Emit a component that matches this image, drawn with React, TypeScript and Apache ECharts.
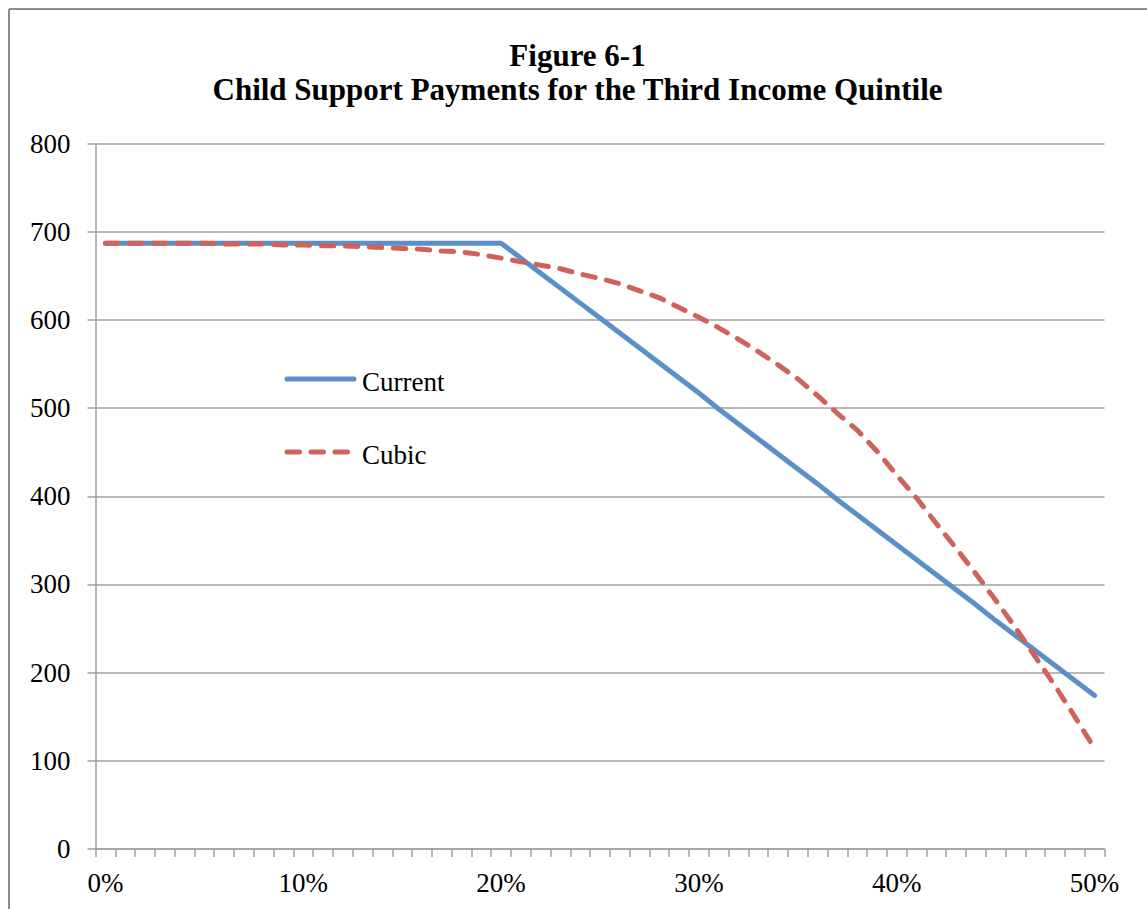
import React, { useEffect, useRef } from "react";
import * as echarts from "echarts";

// Income share categories, 0% through 50% in 1% steps
const incomeShare: string[] = Array.from({ length: 51 }, (_, i) => `${i}%`);

const titleLines = ["Figure 6-1", "Child Support Payments for the Third Income Quintile"];
const seriesNames = ["Current", "Cubic"];
const seriesColors = ["#5a8fc9", "#cf625a"];

// Monthly payment under the current schedule
const currentPayments: number[] = [
  687, 687, 687, 687, 687, 687, 687, 687, 687, 687,
  687, 687, 687, 687, 687, 687, 687, 687, 687, 687,
  687, 670, 653, 636, 619, 602, 585, 568, 551, 534,
  517, 499, 482, 465, 448, 431, 414, 396, 379, 362,
  345, 328, 311, 294, 277, 259, 242, 225, 208, 191,
  174,
];

// Monthly payment under the cubic schedule
const cubicPayments: number[] = [
  687, 687, 687, 687, 687, 687, 686, 686, 686, 685,
  685, 684, 684, 683, 682, 681, 680, 678, 677, 674,
  670, 666, 662, 658, 652, 647, 641, 633, 625, 614,
  603, 591, 578, 564, 549, 533, 514, 494, 475, 451,
  424, 398, 369, 341, 312, 282, 251, 218, 185, 150,
  114,
];

const FONT = "'Liberation Serif', 'Times New Roman', serif";
const GRID_GRAY = "#a0a0a0";
const DASH = [12.5, 11.5];

export default function App() {
  const ref = useRef<HTMLDivElement>(null);

  useEffect(() => {
    if (!ref.current) return;
    const chart = echarts.init(ref.current, undefined, { renderer: "svg" });

    // Legend keys drawn by hand so the swatches carry the full line weight and dash
    const legendKeys = seriesNames.flatMap((name, i) => {
      const y = 371 + i * 73;
      return [
        {
          type: "line",
          shape: { x1: 279, y1: y, x2: 346, y2: y },
          style: {
            stroke: seriesColors[i],
            lineWidth: 5,
            lineCap: "round",
            lineDash: i === 1 ? DASH : null,
          },
        },
        {
          type: "text",
          x: 354,
          y: y + 3,
          style: {
            text: name,
            font: `27px ${FONT}`,
            fill: "#000",
            textVerticalAlign: "middle",
            verticalAlign: "middle",
          },
        },
      ];
    });

    chart.setOption({
      animation: false,
      backgroundColor: "#ffffff",
      title: [
        {
          text: titleLines[0],
          left: "center",
          top: 32,
          padding: 0,
          textStyle: { fontFamily: FONT, fontWeight: "bold", fontSize: 31, color: "#000" },
        },
        {
          text: titleLines[1],
          left: "center",
          top: 66,
          padding: 0,
          textStyle: { fontFamily: FONT, fontWeight: "bold", fontSize: 31, color: "#000" },
        },
      ],
      graphic: [
        { type: "line", shape: { x1: 1, y1: 1, x2: 1139, y2: 1 }, style: { stroke: "#8c8c8c", lineWidth: 2 } },
        { type: "line", shape: { x1: 1, y1: 1, x2: 1, y2: 901 }, style: { stroke: "#8c8c8c", lineWidth: 2 } },
        ...legendKeys,
      ],
      grid: { left: 87.5, top: 135.5, right: 42.5, bottom: 60, containLabel: false },
      xAxis: {
        type: "category",
        data: incomeShare,
        boundaryGap: true,
        axisLine: { show: true, lineStyle: { color: GRID_GRAY, width: 1.5 } },
        axisTick: { show: true, interval: 0, length: 8, lineStyle: { color: GRID_GRAY, width: 1.5 } },
        axisLabel: {
          interval: 9,
          margin: 20,
          fontFamily: FONT,
          fontSize: 27,
          color: "#000",
        },
        splitLine: { show: false },
      },
      yAxis: {
        type: "value",
        min: 0,
        max: 800,
        interval: 100,
        axisLine: { show: true, lineStyle: { color: GRID_GRAY, width: 1.5 } },
        axisTick: { show: true, length: 8, lineStyle: { color: GRID_GRAY, width: 1.5 } },
        axisLabel: { margin: 25, fontFamily: FONT, fontSize: 27, color: "#000" },
        splitLine: { show: true, lineStyle: { color: GRID_GRAY, width: 1.5 } },
      },
      series: [
        {
          name: seriesNames[0],
          type: "line",
          data: currentPayments,
          symbol: "none",
          color: seriesColors[0],
          lineStyle: { color: seriesColors[0], width: 5, cap: "round", join: "round" },
          z: 2,
        },
        {
          name: seriesNames[1],
          type: "line",
          data: cubicPayments,
          symbol: "none",
          color: seriesColors[1],
          lineStyle: { color: seriesColors[1], width: 5, type: DASH, cap: "round", join: "round" },
          z: 3,
        },
      ],
    });
    return () => chart.dispose();
  }, []);

  return (
    <div
      ref={ref}
      style={{ position: "absolute", left: 8, top: 8, width: 1139, height: 901 }}
    />
  );
}
